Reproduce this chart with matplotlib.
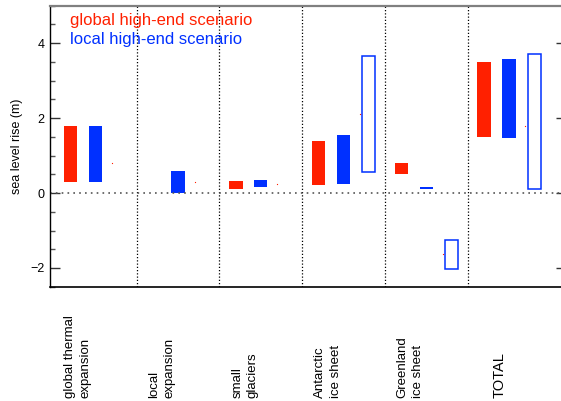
import numpy as np
import matplotlib
matplotlib.use("Agg")
import matplotlib.pyplot as plt
import matplotlib.transforms as mtransforms

plt.rcParams['font.family'] = ['Liberation Sans', 'DejaVu Sans']

categories = ['global thermal\nexpansion', 'local\nexpansion', 'small\nglaciers',
              'Antarctic\nice sheet', 'Greenland\nice sheet', 'TOTAL']
global_low = [0.30, np.nan, 0.11, 0.22, 0.50, 1.50]
global_high = [1.80, np.nan, 0.32, 1.40, 0.80, 3.50]
local_low = [0.30, 0.00, 0.15, 0.24, 0.10, 1.47]
local_high = [1.80, 0.60, 0.35, 1.54, 0.15, 3.58]
range_low = [np.nan, np.nan, np.nan, 0.56, -2.02, 0.11]
range_high = [np.nan, np.nan, np.nan, 3.66, -1.25, 3.72]
mid_points = [0.80, 0.30, 0.24, 2.10, -1.62, 1.80]

RED = '#ff2000'
BLUE = '#0030ff'

fig = plt.figure(figsize=(5.61, 4.01), dpi=100)
ax = fig.add_axes([49.5 / 561, 114.3 / 401, (566 - 49.5) / 561, 281.0 / 401])

idx = np.arange(len(categories))
gl = np.array(global_low); gh = np.array(global_high)
ll = np.array(local_low); lh = np.array(local_high)
rl = np.array(range_low); rh = np.array(range_high)

w = 0.16
ax.bar(idx + 0.2, gh - gl, bottom=gl, width=w, color=RED, linewidth=0)
ax.bar(idx + 0.5, lh - ll, bottom=ll, width=w, color=BLUE, linewidth=0)
ax.bar(idx + 0.805, rh - rl, bottom=rl, width=0.155, fill=False,
       edgecolor=BLUE, linewidth=1.1)
ax.plot(idx + 0.7, mid_points, linestyle='none', marker='s', markersize=0.8,
        color=RED, markeredgewidth=0)

# separators
for xv in range(1, len(categories)):
    ax.axvline(xv, color='black', linestyle=(0, (1, 1.6)), linewidth=0.9)
ax.axhline(0, color='#555555', linestyle=(0, (1, 2.5)), linewidth=1.2)

ax.set_xlim(-0.054, 6.19)
ax.set_ylim(-2.5, 5)
ax.set_xticks([])
ax.set_yticks([-2, 0, 2, 4])
ax.set_yticklabels(['\u22122', '0', '2', '4'])
ax.set_yticks(np.arange(-2.5, 5.01, 0.5), minor=True)
ax.tick_params(axis='y', which='major', direction='in', length=7.2, width=1.0,
               right=True, labelsize=9, pad=3.5, color='#333333')
ax.tick_params(axis='y', which='minor', direction='in', length=3.6, width=1.0,
               right=True, color='#555555')
ax.spines['top'].set_color('#808080')
ax.spines['top'].set_linewidth(1.6)
ax.spines['left'].set_linewidth(1.0)
ax.spines['bottom'].set_linewidth(1.2)
ax.set_ylabel('sea level rise (m)', fontsize=9, labelpad=5)

# legend-like texts
fig.text(70 / 561, 1 - 25.5 / 401, 'global high-end scenario', color=RED,
         fontsize=12, ha='left', va='baseline')
fig.text(70 / 561, 1 - 44 / 401, 'local high-end scenario', color=BLUE,
         fontsize=12, ha='left', va='baseline')

# category labels
label_x = [0.29, 1.30, 2.31, 3.31, 4.31, 5.39]
trans = mtransforms.blended_transform_factory(ax.transData, fig.transFigure)
for xv, lab in zip(label_x, categories):
    fs = 10.5 if lab == 'TOTAL' else 9.5
    ax.text(xv, 3.5 / 401, lab, transform=trans, rotation=90, ha='center',
            va='bottom', multialignment='left', fontsize=fs, linespacing=1.4,
            clip_on=False)

fig.savefig('out.png', dpi=100)
